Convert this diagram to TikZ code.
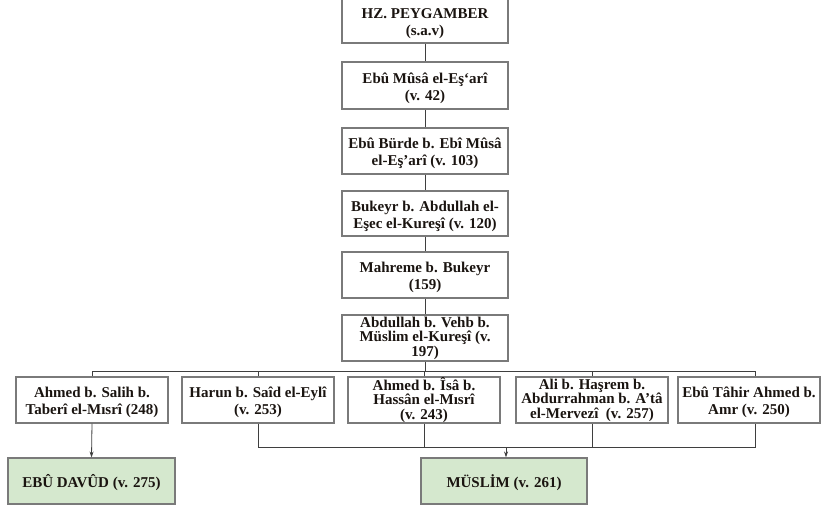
\documentclass[tikz,border=0pt]{standalone}
\usepackage{fontspec}
\setmainfont{Liberation Serif}
\usetikzlibrary{arrows.meta}
\definecolor{boxline}{HTML}{7A7A7A}
\definecolor{conn}{HTML}{3F3F3F}
\definecolor{greenfill}{HTML}{D5E8CE}
\definecolor{txt}{HTML}{1A1410}
\newcommand\tp{\rule{0pt}{16pt}}
\begin{document}
\begin{tikzpicture}[x=1pt,y=-1pt,
  box/.style={draw=boxline,line width=1.1pt,fill=white,inner sep=0pt,align=center,
    font=\fontsize{15}{17}\selectfont\bfseries,text=txt},
  tight/.style={font=\fontsize{15}{14.5}\selectfont\bfseries},
  gbox/.style={box,fill=greenfill},
  link/.style={draw=conn,line width=0.8pt},
  arr/.style={link,-{Stealth[length=6pt,width=4pt]}}]
\useasboundingbox (0,0) rectangle (822,505);
\fill[white] (0,0) rectangle (822,505);
% chain
\node[box,minimum width=166pt,minimum height=45pt] (b1) at (425,20.5) {\tp HZ. PEYGAMBER\\(s.a.v)};
\node[box,minimum width=166pt,minimum height=47pt] (b2) at (425,85.5) {\tp Ebû Mûsâ el-Eş‘arî\\(v. 42)};
\node[box,minimum width=166pt,minimum height=46pt] (b3) at (425,151) {\tp Ebû Bürde b. Ebî Mûsâ\\el-Eş’arî (v. 103)};
\node[box,minimum width=166pt,minimum height=45pt] (b4) at (425,213.5) {\tp Bukeyr b. Abdullah el-\\Eşec el-Kureşî (v. 120)};
\node[box,minimum width=166pt,minimum height=46pt] (b5) at (425,275) {\tp Mahreme b. Bukeyr\\(159)};
\node[box,tight,minimum width=166pt,minimum height=46pt] (b6) at (425,338) {Abdullah b. Vehb b.\\Müslim el-Kureşî (v.\\197)};
% row
\node[box,minimum width=152pt,minimum height=46pt] (A) at (92,400) {\tp Ahmed b. Salih b.\\Taberî el-Mısrî (248)};
\node[box,minimum width=152pt,minimum height=46pt] (B) at (258,400) {\tp Harun b. Saîd el-Eylî\\(v. 253)};
\node[box,tight,minimum width=152pt,minimum height=46pt] (C) at (424,400) {Ahmed b. Îsâ b.\\Hassân el-Mısrî\\(v. 243)};
\node[box,tight,minimum width=152pt,minimum height=46pt] (D) at (592,400) {Ali b. Haşrem b.\\Abdurrahman b. A’tâ\\el-Mervezî\ \ (v. 257)};
\node[box,minimum width=142pt,minimum height=46pt] (E) at (749,400) {\tp Ebû Tâhir Ahmed b.\\Amr (v. 250)};
% results
\node[gbox,minimum width=167pt,minimum height=46pt] (G1) at (91.5,481) {\tp EBÛ DAVÛD (v. 275)};
\node[gbox,minimum width=166pt,minimum height=46pt] (G2) at (504,481) {\tp MÜSLİM (v. 261)};
% coordinates
\coordinate (bus1) at (425,371);
\coordinate (bus2) at (506,447);
\coordinate (Et) at ([xshift=6pt]E.north);
\coordinate (Eb) at ([xshift=6pt]E.south);
% chain links
\draw[link] (b1.south) -- (b2.north);
\draw[link] (b2.south) -- (b3.north);
\draw[link] (b3.south) -- (b4.north);
\draw[link] (b4.south) -- (b5.north);
\draw[link] (b5.south) -- (b6.north);
\draw[link] (b6.south) -- (bus1);
\draw[link] (A.north) |- (Et |- bus1) -- (Et);
\draw[link] (B.north) -- (B.north |- bus1);
\draw[link] (C.north) -- (C.north |- bus1);
\draw[link] (D.north) -- (D.north |- bus1);
% bottom
\draw[arr] (A.south) -- (G1.north);
\draw[link] (B.south) |- (Eb |- bus2) -- (Eb);
\draw[link] (C.south) -- (C.south |- bus2);
\draw[link] (D.south) -- (D.south |- bus2);
\draw[arr] (bus2) -- (bus2 |- G2.north);
\end{tikzpicture}
\end{document}
